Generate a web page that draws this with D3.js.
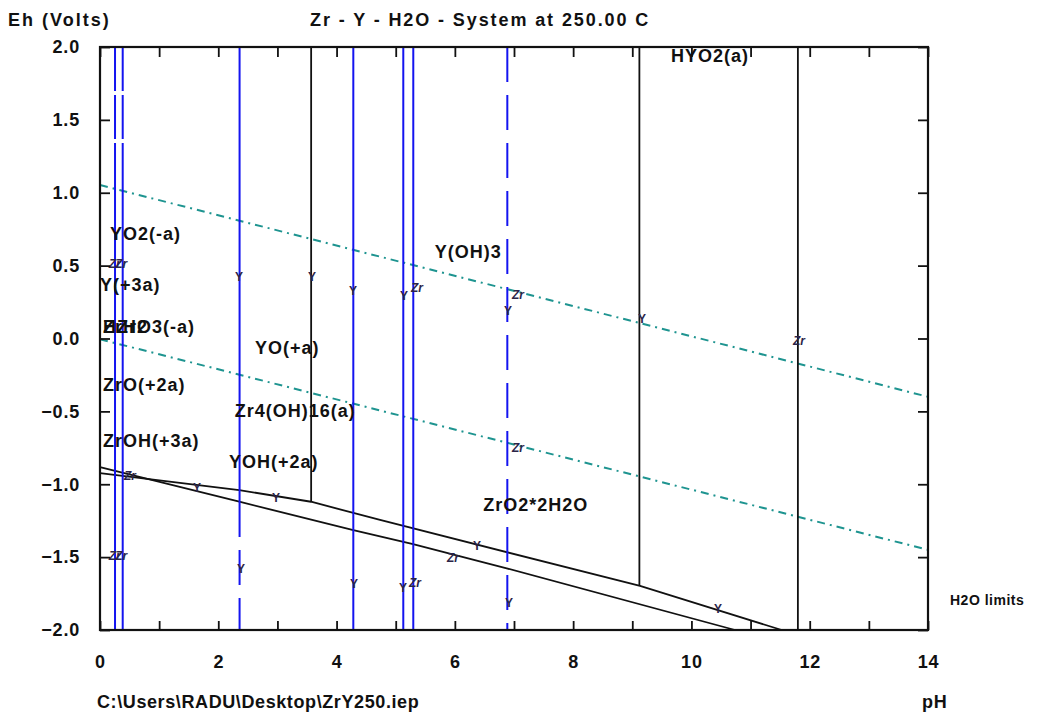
<!DOCTYPE html>
<html>
<head>
<meta charset="utf-8">
<script src="https://cdn.jsdelivr.net/npm/d3@7"></script>
<style>
  body { margin: 0; background: #fff; }
  text { font-family: "Liberation Sans", Arial, sans-serif; fill: #111; }
</style>
</head>
<body>
<div id="chart"></div>
<script>
// Eh-pH diagram, Zr - Y - H2O at 250 C

var phTicks = [0, 1, 2, 3, 4, 5, 6, 7, 8, 9, 10, 11, 12, 13, 14];
var phLabels = [0, 2, 4, 6, 8, 10, 12, 14];
var ehTicks = [-2.0, -1.5, -1.0, -0.5, 0.0, 0.5, 1.0, 1.5, 2.0];

// water stability lines (dashed teal): Eh at pH 0 and pH 14
var waterUpper = [[0, 1.053], [14, -0.400]];
var waterLower = [[0, -0.005], [14, -1.450]];

// two solid black "H2O limits" curves
var limitA = [[0, -0.882], [2.355, -1.120], [4.283, -1.314], [5.293, -1.410], [6.877, -1.577], [10.737, -2.0]];
var limitB = [[0, -0.923], [2.355, -1.040], [3.568, -1.120], [4.735, -1.245], [9.131, -1.698], [11.527, -2.0]];

// vertical boundaries: pH, top Eh, bottom Eh, kind
var yBounds = [
  {ph: 0.254, top: 2.0, bot: 1.369, kind: "blueDashLong"},
  {ph: 0.254, top: 1.341, bot: -2.0, kind: "blue"},
  {ph: 0.384, top: 2.0, bot: 1.369, kind: "blueDashLong"},
  {ph: 0.384, top: 1.341, bot: -2.0, kind: "blue"},
  {ph: 2.36, top: 2.0, bot: -1.362, kind: "blue"},
  {ph: 2.36, top: -1.451, bot: -2.0, kind: "blueDash"},
  {ph: 4.283, top: 2.0, bot: -2.0, kind: "blue"},
  {ph: 5.128, top: 2.0, bot: -2.0, kind: "blue"},
  {ph: 5.297, top: 2.0, bot: -2.0, kind: "blue"},
  {ph: 6.887, top: 2.0, bot: -2.0, kind: "blueDash"}
];
var zrBounds = [
  {ph: 3.57, top: 2.0, bot: -1.12},
  {ph: 9.12, top: 2.0, bot: -1.698},
  {ph: 11.8, top: 2.0, bot: -2.0}
];

// species labels: text, pH at left edge, Eh at baseline
var species = [
  ["HYO2(a)", 9.655, 1.897],
  ["YO2(-a)", 0.169, 0.676],
  ["Y(+3a)", 0.0, 0.326],
  ["ZrH2", 0.05, 0.038],
  ["HZrO3(-a)", 0.05, 0.038],
  ["YO(+a)", 2.62, -0.106],
  ["ZrO(+2a)", 0.05, -0.360],
  ["Zr4(OH)16(a)", 2.28, -0.539],
  ["ZrOH(+3a)", 0.05, -0.744],
  ["YOH(+2a)", 2.18, -0.889],
  ["Y(OH)3", 5.66, 0.552],
  ["ZrO2*2H2O", 6.48, -1.184]
];

// small element tags on the boundaries
var tags = [
  ["Zr", 0.25, 0.518], ["Zr", 0.36, 0.518],
  ["Y", 2.35, 0.429], ["Y", 3.585, 0.429], ["Y", 4.278, 0.333],
  ["Y", 5.14, 0.298], ["Zr", 5.36, 0.35], ["Y", 6.899, 0.196],
  ["Zr", 7.068, 0.305], ["Y", 9.165, 0.141], ["Zr", 11.819, -0.010],
  ["Zr", 7.068, -0.744], ["Zr", 0.507, -0.937], ["Y", 1.64, -1.019],
  ["Y", 2.976, -1.087], ["Y", 6.375, -1.417], ["Zr", 5.969, -1.499],
  ["Zr", 0.25, -1.485], ["Zr", 0.36, -1.485], ["Y", 2.384, -1.575],
  ["Y", 4.295, -1.677], ["Y", 5.123, -1.705], ["Zr", 5.326, -1.671],
  ["Y", 6.916, -1.808], ["Y", 10.45, -1.849]
];

var svgWidth = 1038, svgHeight = 713;
var plotLeft = 100, plotRight = 928, plotTop = 47, plotBottom = 630;

var svg = d3.select("#chart")
  .append("svg")
    .attr("width", svgWidth)
    .attr("height", svgHeight);

var x = d3.scaleLinear().domain([0, 14]).range([plotLeft, plotRight]);
var y = d3.scaleLinear().domain([-2, 2]).range([plotBottom, plotTop]);

var line = d3.line()
  .x(function(d) { return x(d[0]); })
  .y(function(d) { return y(d[1]); });

// water lines
[waterUpper, waterLower].forEach(function(w) {
  svg.append("path")
    .datum(w)
    .attr("d", line)
    .attr("fill", "none")
    .attr("stroke", "#1e9490")
    .attr("stroke-width", 2)
    .attr("stroke-dasharray", "8,5,2,5");
});

// black limit curves
[limitA, limitB].forEach(function(l) {
  svg.append("path")
    .datum(l)
    .attr("d", line)
    .attr("fill", "none")
    .attr("stroke", "#111")
    .attr("stroke-width", 1.8);
});

// black vertical boundaries
svg.selectAll("line.zr")
  .data(zrBounds)
  .enter().append("line")
    .attr("x1", function(d) { return x(d.ph); })
    .attr("x2", function(d) { return x(d.ph); })
    .attr("y1", function(d) { return y(d.top); })
    .attr("y2", function(d) { return y(d.bot); })
    .attr("stroke", "#111")
    .attr("stroke-width", 1.8);

// blue vertical boundaries
var dashes = {blue: null, blueDash: "35,13", blueDashLong: "44,4"};
svg.selectAll("line.y")
  .data(yBounds)
  .enter().append("line")
    .attr("x1", function(d) { return x(d.ph); })
    .attr("x2", function(d) { return x(d.ph); })
    .attr("y1", function(d) { return y(d.top); })
    .attr("y2", function(d) { return y(d.bot); })
    .attr("stroke", "#1414f0")
    .attr("stroke-width", 2)
    .attr("stroke-dasharray", function(d) { return dashes[d.kind]; });

// tags
svg.selectAll("text.tag")
  .data(tags)
  .enter().append("text")
    .attr("x", function(d) { return x(d[1]); })
    .attr("y", function(d) { return y(d[2]) + 5; })
    .attr("text-anchor", "middle")
    .style("font-size", "12px")
    .style("font-weight", "bold")
    .style("font-style", function(d) { return d[0] === "Zr" ? "italic" : "normal"; })
    .style("fill", "#2b2448")
    .text(function(d) { return d[0]; });

// species labels
svg.selectAll("text.species")
  .data(species)
  .enter().append("text")
    .attr("x", function(d) { return x(d[1]); })
    .attr("y", function(d) { return y(d[2]); })
    .style("font-size", "18px")
    .style("font-weight", "bold")
    .style("letter-spacing", "1px")
    .text(function(d) { return d[0]; });

// axes, ticks pointing inward
function styleAxis(g) {
  g.select(".domain").remove();
  g.selectAll(".tick line").attr("stroke", "#111").attr("stroke-width", 1.8);
  g.selectAll("text")
    .style("font-family", "'Liberation Sans', Arial, sans-serif")
    .style("font-size", "18px")
    .style("font-weight", "bold")
    .style("letter-spacing", "0.8px")
    .attr("fill", "#111");
}

svg.append("g")
  .attr("transform", "translate(0," + plotBottom + ")")
  .call(d3.axisBottom(x).tickValues(phTicks).tickSize(-9).tickPadding(25)
    .tickFormat(function(d) { return phLabels.indexOf(d) >= 0 ? d : ""; }))
  .call(styleAxis);

svg.append("g")
  .attr("transform", "translate(0," + plotTop + ")")
  .call(d3.axisTop(x).tickValues(phTicks).tickSize(-10).tickFormat(""))
  .call(styleAxis);

svg.append("g")
  .attr("transform", "translate(" + plotLeft + ",0)")
  .call(d3.axisLeft(y).tickValues(ehTicks).tickSize(-10).tickPadding(20).tickFormat(d3.format(".1f")))
  .call(styleAxis);

svg.append("g")
  .attr("transform", "translate(" + plotRight + ",0)")
  .call(d3.axisRight(y).tickValues(ehTicks).tickSize(-10).tickFormat(""))
  .call(styleAxis);

// frame
svg.append("rect")
  .attr("x", plotLeft)
  .attr("y", plotTop)
  .attr("width", plotRight - plotLeft)
  .attr("height", plotBottom - plotTop)
  .attr("fill", "none")
  .attr("stroke", "#111")
  .attr("stroke-width", 2.2);

// titles
svg.append("text")
  .attr("x", 8).attr("y", 26)
  .style("font-size", "18px").style("font-weight", "bold").style("letter-spacing", "2px")
  .text("Eh (Volts)");

svg.append("text")
  .attr("x", 310).attr("y", 26)
  .style("font-size", "18px").style("font-weight", "bold").style("letter-spacing", "1.9px")
  .text("Zr - Y - H2O - System at 250.00 C");

svg.append("text")
  .attr("x", 97).attr("y", 708)
  .style("font-size", "18px").style("font-weight", "bold").style("letter-spacing", "0.6px")
  .text("C:\\Users\\RADU\\Desktop\\ZrY250.iep");

svg.append("text")
  .attr("x", 922).attr("y", 708)
  .style("font-size", "18px").style("font-weight", "bold").style("letter-spacing", "0.8px")
  .text("pH");

svg.append("text")
  .attr("x", 950).attr("y", 605)
  .style("font-size", "14px").style("font-weight", "bold").style("letter-spacing", "0.5px")
  .text("H2O limits");
</script>
</body>
</html>
